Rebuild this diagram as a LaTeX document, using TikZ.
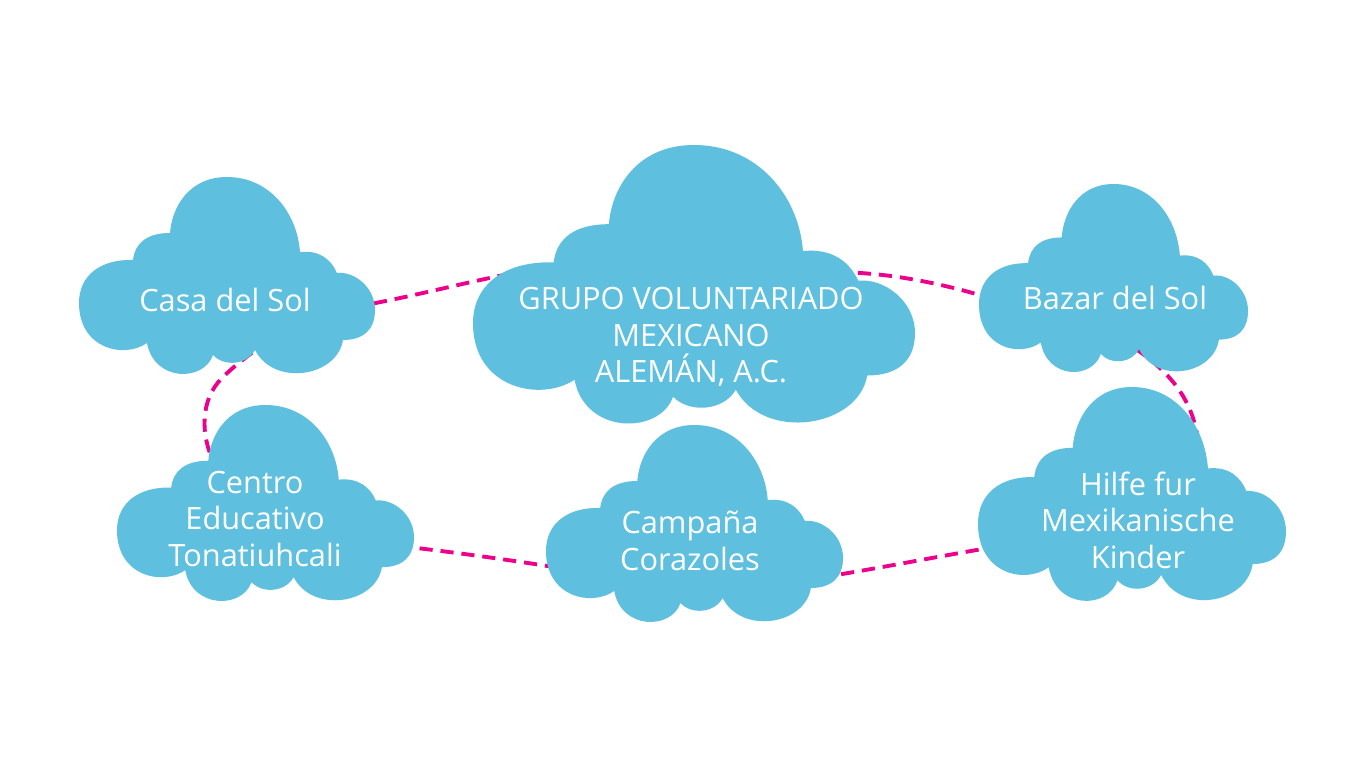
\documentclass[tikz,border=0pt]{standalone}
\usepackage{fontspec}
\setmainfont{Open Sans}
\pgfdeclarelayer{bg}
\pgfdeclarelayer{back}
\pgfdeclarelayer{mid}
\pgfsetlayers{bg,back,mid,main}
\definecolor{cloudblue}{HTML}{5EC0DE}
\definecolor{linkpink}{HTML}{EC008C}
\tikzset{
  cloudpic/.pic={
    \fill[cloudblue] (0,126) .. controls (0,98) and (22,82) .. (54,83)
      .. controls (56,66) and (68,56) .. (91,56)
      .. controls (93,30) and (110,0) .. (148,0)
      .. controls (190,0) and (218,35) .. (221,75)
      .. controls (240,73) and (252,82) .. (258,96)
      .. controls (275,94) and (296,110) .. (296,133)
      .. controls (296,152) and (285,163) .. (264,163)
      .. controls (258,200) and (195,210) .. (176,173)
      .. controls (168,188) and (145,190) .. (134,178)
      .. controls (125,205) and (75,205) .. (68,166)
      .. controls (45,182) and (0,172) .. (0,126) -- cycle;
  },
  cloudtext/.style={text=white, align=center, inner sep=0pt,
    font=\fontsize{17.5}{20.8}\selectfont},
  link/.style={draw=linkpink, line width=2.2pt, dash pattern=on 7.5pt off 4.5pt}
}
\begin{document}
\begin{tikzpicture}[x=0.02cm, y=-0.02cm]
\useasboundingbox (0,0) rectangle (1366,768);
\begin{pgfonlayer}{bg}
\fill[white] (0,0) rectangle (1366,768);
\end{pgfonlayer}

% labels (named nodes)
\node[cloudtext] (casa)   at (225,300) {Casa del Sol};
\node[cloudtext] (gvm)    at (691,337) {GRUPO VOLUNTARIADO\\MEXICANO\\ALEMÁN, A.C.};
\node[cloudtext] (bazar)  at (1115,298) {Bazar del Sol};
\node[cloudtext] (centro) at (255,519) {Centro\\Educativo\\Tonatiuhcali};
\node[cloudtext] (camp)   at (690,541) {Campaña\\Corazoles};
\node[cloudtext] (hilfe)  at (1138,520) {Hilfe fur\\Mexikanische\\Kinder};

% clouds
\begin{pgfonlayer}{mid}
\pic[xscale=1,      yscale=1]      at (79,177)  {cloudpic};
\pic[xscale=1.4932, yscale=1.4141] at (473,145) {cloudpic};
\pic[xscale=0.9088, yscale=0.9545] at (979,184) {cloudpic};
\pic[xscale=1.0034, yscale=0.9949] at (117,405) {cloudpic};
\pic[xscale=1.0034, yscale=1]      at (546,425) {cloudpic};
\pic[xscale=1.0405, yscale=1.0859] at (978,387) {cloudpic};
\end{pgfonlayer}

% connectors
\begin{pgfonlayer}{back}
\draw[link] (casa) -- (360,306) .. controls (420,295) and (470,281) .. (520,272) -- (gvm);
\draw[link] (gvm) -- (830,272) .. controls (880,272) and (930,280) .. (990,298) -- (bazar);
\draw[link] (bazar) -- (1130,345) .. controls (1165,368) and (1192,395) .. (1198,440) -- (hilfe);
\draw[link] (hilfe) -- (1000,546) .. controls (940,556) and (880,568) .. (830,576) -- (camp);
\draw[link] (camp) -- (560,568) .. controls (510,560) and (460,553) .. (400,546) -- (centro);
\draw[link] (centro) -- (215,465) .. controls (200,435) and (200,400) .. (222,378)
  .. controls (235,365) and (248,356) .. (262,345) -- (casa);
\end{pgfonlayer}
\end{tikzpicture}
\end{document}
